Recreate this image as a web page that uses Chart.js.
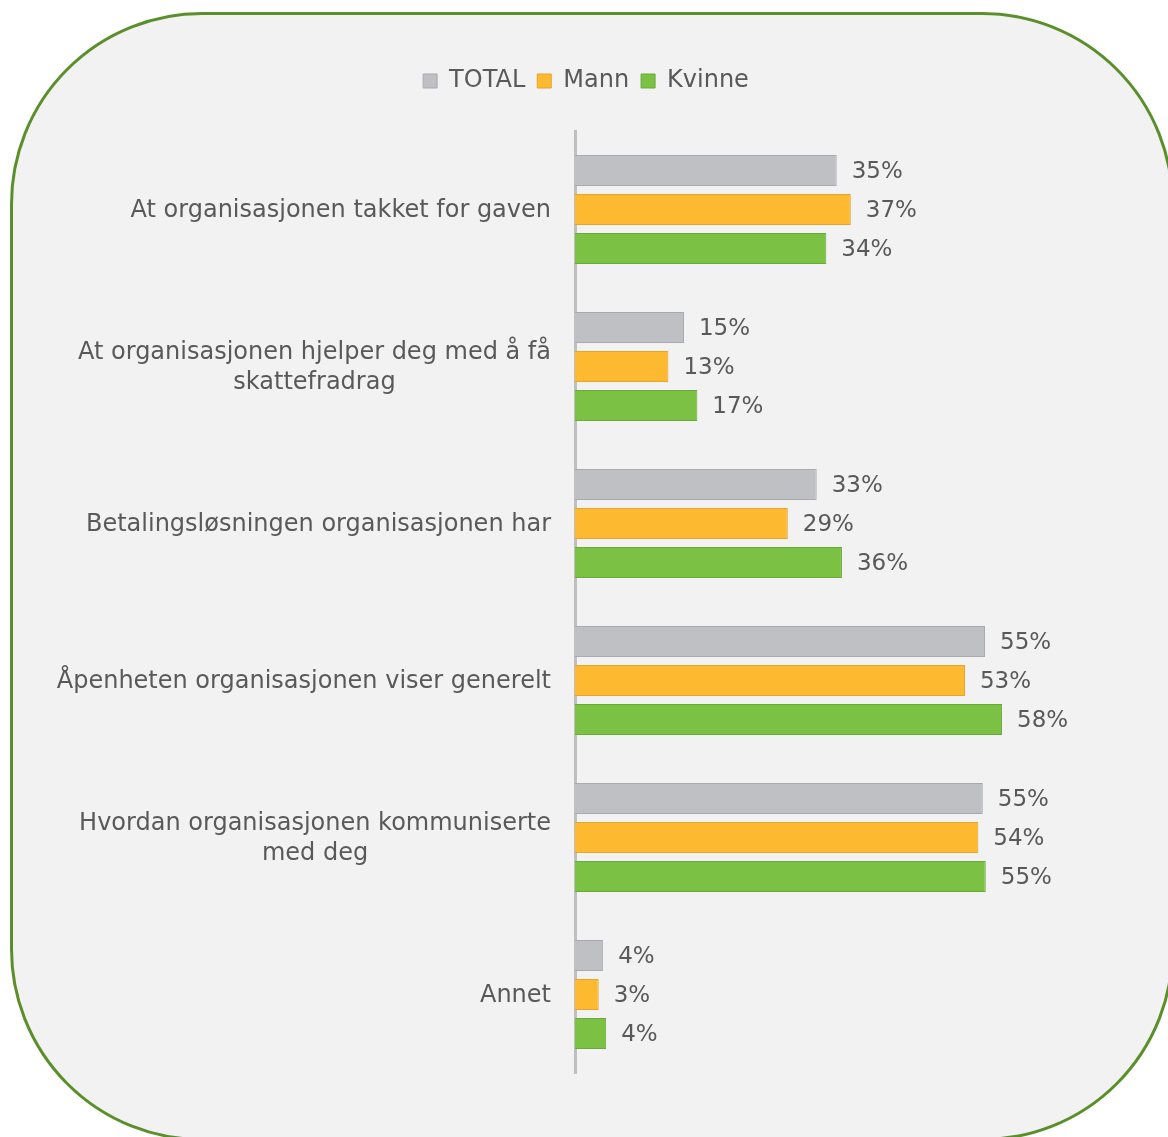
<!DOCTYPE html>
<html>
<head>
<meta charset="utf-8">
<script src="https://cdn.jsdelivr.net/npm/chart.js@4.4.1/dist/chart.umd.min.js"></script>
<style>
html, body { margin: 0; padding: 0; overflow: hidden; background: #ffffff; width: 1168px; height: 1137px; }
#frame { position: absolute; left: 10px; top: 12px; width: 1164px; height: 1129px; box-sizing: border-box;
  border: 3px solid #5b8f2c; border-radius: 192px; background: #f2f2f2; }
#c { position: absolute; left: 0; top: 0; }
</style>
</head>
<body>
<div id="frame"></div>
<canvas id="c" width="1168" height="1137"></canvas>
<script>
const categories = [
  ["At organisasjonen takket for gaven"],
  ["At organisasjonen hjelper deg med å få", "skattefradrag"],
  ["Betalingsløsningen organisasjonen har"],
  ["Åpenheten organisasjonen viser generelt"],
  ["Hvordan organisasjonen kommuniserte", "med deg"],
  ["Annet"]
];
const seriesNames = ["TOTAL", "Mann", "Kvinne"];
const totalValues  = [35.3, 14.7, 32.6, 55.3, 55.0, 3.8];
const mannValues   = [37.2, 12.6, 28.7, 52.6, 54.4, 3.2];
const kvinneValues = [33.9, 16.5, 36.0, 57.6, 55.4, 4.2];

const FONT = '"DejaVu Sans", Verdana, sans-serif';
const TEXT = '#595959';

const legendSpacing = {
  id: 'legendSpacing',
  beforeInit(chart) {
    const lg = chart.legend;
    if (lg) {
      const orig = lg.fit;
      lg.fit = function () { orig.call(this); this.height += 28; };
    }
  },
  afterLayout(chart) {
    const lg = chart.legend;
    if (lg) { lg.left += 39; lg.right += 39; }
  }
};

const categoryLabels = {
  id: 'categoryLabels',
  afterDraw(chart) {
    const ctx = chart.ctx;
    const y = chart.scales.y;
    const rightX = chart.chartArea.left - 24;
    const lh = 30;
    ctx.save();
    ctx.font = '24px ' + FONT;
    ctx.fillStyle = TEXT;
    ctx.textBaseline = 'middle';
    ctx.textAlign = 'center';
    chart.data.labels.forEach((lines, i) => {
      const cy = y.getPixelForValue(i);
      const w = Math.max(...lines.map(l => ctx.measureText(l).width));
      const cx = rightX - w / 2;
      lines.forEach((l, j) => {
        ctx.fillText(l, cx, cy + 1 + (j - (lines.length - 1) / 2) * lh);
      });
    });
    ctx.restore();
  }
};

const valueLabels = {
  id: 'valueLabels',
  afterDatasetsDraw(chart) {
    const ctx = chart.ctx;
    ctx.save();
    ctx.font = '23px ' + FONT;
    ctx.fillStyle = TEXT;
    ctx.textBaseline = 'middle';
    ctx.textAlign = 'left';
    chart.data.datasets.forEach((ds, di) => {
      const meta = chart.getDatasetMeta(di);
      meta.data.forEach((bar, i) => {
        ctx.fillText(Math.round(ds.data[i]) + '%', bar.x + 15, bar.y + 2);
      });
    });
    ctx.restore();
  }
};

new Chart(document.getElementById('c'), {
  type: 'bar',
  data: {
    labels: categories,
    datasets: [
      { label: seriesNames[0], data: totalValues, backgroundColor: '#bfc0c4', borderColor: '#a9aaae', borderWidth: 1 },
      { label: seriesNames[1], data: mannValues, backgroundColor: '#fdb92f', borderColor: '#e3a52a', borderWidth: 1 },
      { label: seriesNames[2], data: kvinneValues, backgroundColor: '#7bc143', borderColor: '#6aab38', borderWidth: 1 }
    ]
  },
  options: {
    indexAxis: 'y',
    responsive: false,
    animation: false,
    devicePixelRatio: 1,
    layout: { padding: { top: 57, bottom: 64, left: 0, right: 74 } },
    datasets: { bar: { categoryPercentage: 0.745, barPercentage: 0.8 } },
    scales: {
      x: { display: false, min: 0, max: 70 },
      y: {
        grid: { display: false },
        border: { display: true, color: '#bfbfbf', width: 3 },
        ticks: { display: false },
        afterFit(scale) { scale.width = 575; }
      }
    },
    plugins: {
      legend: {
        position: 'top',
        labels: {
          boxWidth: 14, boxHeight: 14, padding: 12,
          color: TEXT,
          font: { family: FONT, size: 24 }
        }
      },
      tooltip: { enabled: false }
    }
  },
  plugins: [legendSpacing, categoryLabels, valueLabels]
});
</script>
</body>
</html>
